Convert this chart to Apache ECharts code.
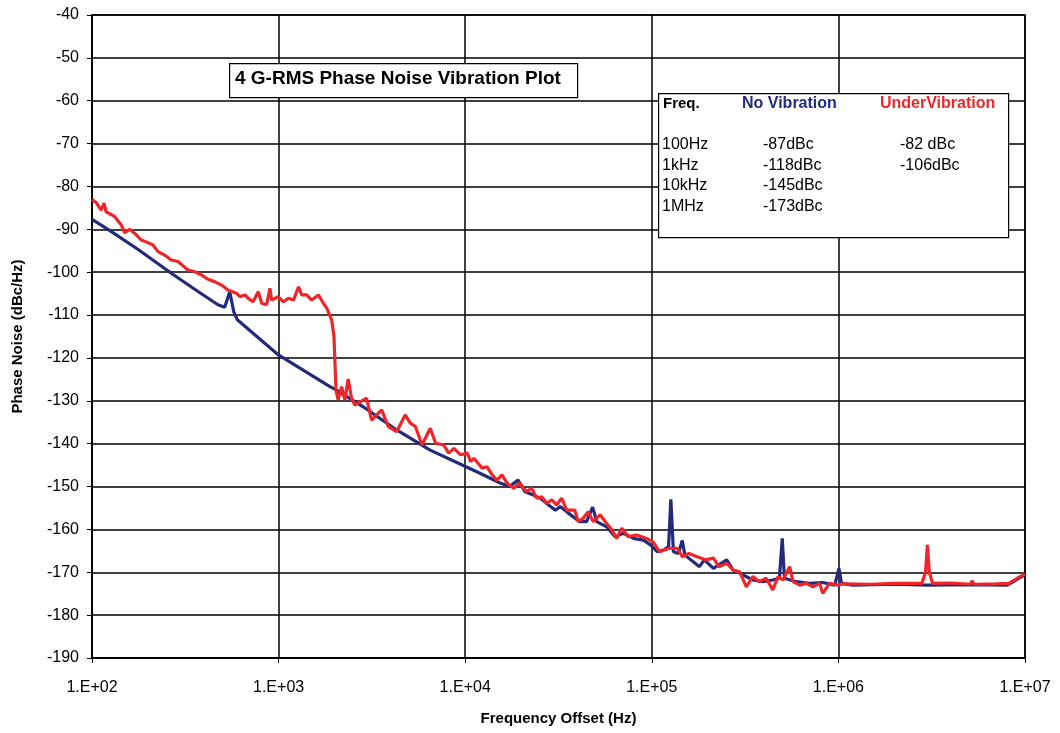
<!DOCTYPE html>
<html>
<head>
<meta charset="utf-8">
<script src="https://cdn.jsdelivr.net/npm/echarts@6/dist/echarts.min.js"></script>
<style>
  html, body { margin: 0; padding: 0; background: #fff; }
  #chart { width: 1060px; height: 733px; }
</style>
</head>
<body>
<div id="chart"></div>
<script>
// No vibration (blue) - frequency in Hz, phase noise in dBc/Hz
const noVibFreq = [100, 121.8, 176, 266, 370, 473, 514, 547, 575, 601, 998, 1884, 2047, 2840, 4290, 6490, 10100,
  12000, 15400, 17300, 19200, 20900, 23200, 25200, 28000, 30400, 32400, 35700, 41100, 44700, 48200, 50700,
  57300, 63600, 70400, 79800, 90200, 98400, 106800, 115700, 123000, 126500, 130600, 138800, 145600, 150500,
  166000, 180000, 191000, 214000, 252000, 273000, 308000, 348000, 393000, 445000, 483000, 500000, 514000,
  594000, 700000, 825000, 956000, 1007000, 1040000, 1200000, 2000000, 3000000, 5000000, 8000000, 8500000,
  9200000, 10000000];
const noVibDb = [-87.7, -90.0, -94.65, -100.25, -104.5, -107.6, -108.2, -104.6, -109.2, -111.1, -119.3, -126.7, -127.5, -131.4, -136.8, -141.5, -145.4,
  -146.9, -149.2, -150.0, -148.5, -151.2, -152.0, -152.7, -154.3, -155.5, -154.7, -156.2, -158.2, -158.2, -154.8, -158.2,
  -159.4, -161.7, -160.9, -162.1, -162.5, -163.6, -165.2, -164.8, -164.0, -153.0, -165.2, -165.6, -162.6, -166.0,
  -167.5, -168.7, -167.1, -169.1, -167.1, -169.5, -170.6, -171.8, -172.2, -171.8, -171.4, -162.1, -171.4,
  -172.2, -172.6, -172.4, -173.0, -169.1, -172.6, -173.0, -172.8, -173.0, -172.9, -173.0, -172.4,
  -171.5, -170.6];

// Under vibration (red)
const underVibFreq = [100, 105.5, 112, 116, 119, 132, 143.6, 149.6, 159, 169, 184, 199.5, 212, 226, 245, 266, 289, 314,
  327, 355, 385, 418, 454, 494, 535, 594, 620, 661, 688, 730, 778, 812, 862, 899, 917, 995, 1060, 1128, 1202,
  1279, 1330, 1414, 1505, 1633, 1738, 1812, 1925, 1980, 2030, 2085, 2175, 2266, 2360, 2460, 2560, 2960, 3150,
  3570, 3870, 4290, 4770, 5080, 5410, 5870, 6500, 6940, 7660, 8170, 8700, 9450, 10260, 10700, 11130, 12330,
  13100, 13950, 14800, 15750, 16750, 18200, 19500, 21300, 22700, 24150, 25700, 27400, 29100, 30900, 32900,
  35000, 38700, 40300, 42900, 45600, 48600, 52800, 57300, 61000, 64900, 69000, 74900, 83000, 93800, 101600,
  110000, 124000, 137000, 146000, 158000, 175000, 194000, 214000, 229000, 252000, 273000, 296000, 321000,
  348000, 378000, 410000, 445000, 475000, 505000, 548000, 571000, 620000, 672000, 730000, 792000, 825000,
  895000, 1000000, 1050000, 1500000, 2000000, 2800000, 2930000, 3000000, 3070000, 3200000, 4000000, 5100000,
  5200000, 5350000, 7000000, 8200000, 9100000, 10000000];
const underVibDb = [-83.0, -83.8, -85.5, -83.9, -85.9, -87.0, -89.0, -90.8, -90.0, -90.9, -92.5, -93.1, -93.65, -95.2, -96.0, -97.15, -97.5, -98.85,
  -99.5, -99.9, -100.6, -101.65, -102.2, -103.0, -104.15, -104.9, -105.7, -105.3, -106.1, -106.9, -104.55, -107.25, -107.6, -103.75, -106.5, -105.7, -106.9, -106.1, -106.5,
  -103.4, -105.3, -105.3, -106.5, -105.3, -107.25, -108.4, -111.15, -115.0, -127.5, -129.8, -126.7, -129.8, -124.9, -129.4, -131.0, -129.4, -134.5,
  -132.1, -136.0, -137.2, -133.3, -135.2, -136.0, -140.3, -136.4, -139.9, -140.3, -142.2, -141.1, -142.6, -142.2, -144.2, -143.4, -145.7,
  -145.4, -147.3, -148.5, -147.3, -149.2, -150.4, -149.2, -151.2, -150.4, -152.7, -152.4, -153.9, -153.1, -154.3, -152.7,
  -155.5, -155.5, -158.2, -157.4, -155.9, -158.2, -156.6, -158.6, -160.1, -162.1, -159.7, -161.7, -161.3, -162.1, -162.9,
  -165.2, -164.4, -164.4, -166.4, -165.6, -166.4, -167.1, -166.7, -168.7, -167.9, -169.5, -169.9, -173.4,
  -171.0, -172.2, -171.4, -174.1, -171.0, -171.8, -168.7, -172.2, -173.0, -172.6, -173.4, -172.6, -174.9,
  -172.6, -173.0, -172.7, -172.8, -172.6, -172.6, -170.0, -163.6, -170.0, -172.6, -172.5, -172.8,
  -172.0, -172.8, -172.7, -172.6, -171.4, -170.4];

// summary table in the inset box
const tableFreqs = ['100Hz', '1kHz', '10kHz', '1MHz'];
const tableNoVib = ['-87dBc', '-118dBc', '-145dBc', '-173dBc'];
const tableUnderVib = ['-82 dBc', '-106dBc', '', ''];

const yTicks = { min: -190, max: -40, interval: 10 };

const zip = (xs, ys) => xs.map((x, i) => [x, ys[i]]);

const BLUE = '#232a7a';
const RED = '#ee2529';
const FONT = 'Liberation Sans, Arial, sans-serif';

const chart = echarts.init(document.getElementById('chart'));

const tableText = [];
tableText.push({ type: 'text', left: 663, top: 96, style: { text: 'Freq.', font: 'bold 15px ' + FONT, fill: '#000' } });
tableText.push({ type: 'text', left: 742, top: 96, style: { text: 'No Vibration', font: 'bold 16px ' + FONT, fill: BLUE } });
tableText.push({ type: 'text', left: 880, top: 96, style: { text: 'UnderVibration', font: 'bold 16px ' + FONT, fill: RED } });
tableFreqs.forEach((f, i) => {
    const top = 137 + i * 20.5;
    tableText.push({ type: 'text', left: 662, top: top, style: { text: f, font: '16px ' + FONT, fill: '#000' } });
    tableText.push({ type: 'text', left: 763, top: top, style: { text: tableNoVib[i], font: '16px ' + FONT, fill: '#000' } });
    if (tableUnderVib[i]) {
        tableText.push({ type: 'text', left: 900, top: top, style: { text: tableUnderVib[i], font: '16px ' + FONT, fill: '#000' } });
    }
});

chart.setOption({
    animation: false,
    backgroundColor: '#fff',
    grid: { left: 92, right: 35, top: 15, bottom: 75, show: true, borderColor: '#000', borderWidth: 1.5 },
    xAxis: {
        type: 'log',
        logBase: 10,
        min: 100,
        max: 10000000,
        name: 'Frequency Offset (Hz)',
        nameLocation: 'middle',
        nameGap: 53,
        nameTextStyle: { fontFamily: FONT, fontWeight: 'bold', fontSize: 15, color: '#000' },
        axisLine: { lineStyle: { color: '#000', width: 1.5 } },
        axisTick: { show: true, length: 5, lineStyle: { color: '#000' } },
        axisLabel: {
            margin: 22,
            fontFamily: FONT, fontSize: 16, color: '#000',
            formatter: v => '1.E+' + String(Math.round(Math.log10(v))).padStart(2, '0')
        },
        splitLine: { show: true, lineStyle: { color: '#000', width: 1.5 } },
        minorTick: { show: false },
        minorSplitLine: { show: false }
    },
    yAxis: {
        type: 'value',
        min: yTicks.min,
        max: yTicks.max,
        interval: yTicks.interval,
        name: 'Phase Noise (dBc/Hz)',
        nameLocation: 'middle',
        nameGap: 67,
        nameRotate: 90,
        nameTextStyle: { fontFamily: FONT, fontWeight: 'bold', fontSize: 15, color: '#000' },
        axisLine: { show: true, lineStyle: { color: '#000', width: 1.5 } },
        axisTick: { show: true, length: 5, lineStyle: { color: '#000' } },
        axisLabel: { margin: 13, fontFamily: FONT, fontSize: 16, color: '#000' },
        splitLine: { show: true, lineStyle: { color: '#000', width: 1.5 } }
    },
    series: [
        {
            name: 'No Vibration',
            type: 'line',
            data: zip(noVibFreq, noVibDb),
            showSymbol: false,
            lineStyle: { color: BLUE, width: 3.2 },
            z: 2
        },
        {
            name: 'UnderVibration',
            type: 'line',
            data: zip(underVibFreq, underVibDb),
            showSymbol: false,
            lineStyle: { color: RED, width: 3.2 },
            z: 3
        }
    ],
    graphic: [
        {
            type: 'rect', left: 229, top: 63, z: 10,
            shape: { width: 348, height: 34 },
            style: { fill: '#fff', stroke: '#000', lineWidth: 1.2 }
        },
        {
            type: 'text', left: 235, top: 69, z: 11,
            style: { text: '4 G-RMS Phase Noise Vibration Plot', font: 'bold 19px ' + FONT, fill: '#000' }
        },
        {
            type: 'rect', left: 658, top: 93, z: 10,
            shape: { width: 350, height: 144 },
            style: { fill: '#fff', stroke: '#000', lineWidth: 1.2 }
        },
        {
            type: 'group', z: 11,
            children: tableText.map(t => Object.assign({ z: 11 }, t))
        }
    ]
});
</script>
</body>
</html>
